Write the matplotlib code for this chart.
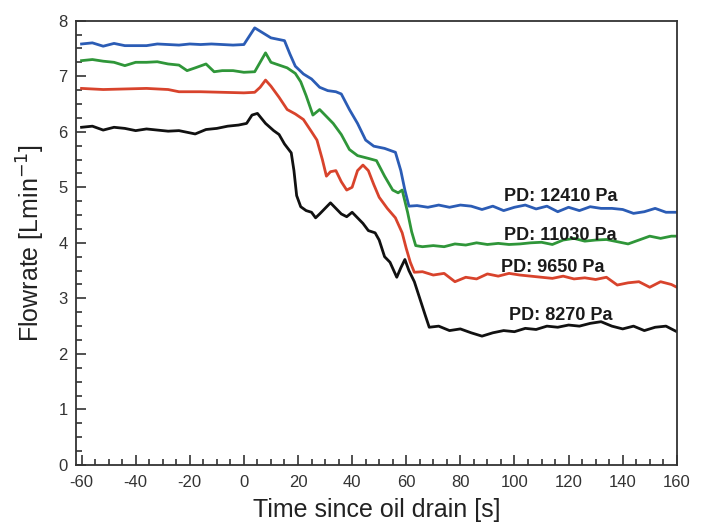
import numpy as np
import matplotlib.pyplot as plt
from matplotlib.ticker import MultipleLocator

plt.rcParams['font.family'] = ['Liberation Sans', 'DejaVu Sans']
plt.rcParams['axes.unicode_minus'] = False

# PD: 12410 Pa
t_12410 = [-60, -56, -52, -48, -44, -40, -36, -32, -28, -24, -20, -16, -12, -8, -4, 0,
           2, 4, 7, 10, 13, 15, 17, 19, 22, 25, 28, 31, 34, 36, 39, 42, 45, 48, 52, 56,
           58, 59.5, 61, 64, 68, 72, 76, 80, 84, 88, 92, 96, 100, 104, 108, 112, 116,
           120, 124, 128, 132, 136, 140, 144, 148, 152, 156, 160]
q_12410 = [7.58, 7.60, 7.54, 7.59, 7.55, 7.55, 7.55, 7.58, 7.57, 7.56, 7.58, 7.57, 7.58,
           7.57, 7.56, 7.57, 7.72, 7.87, 7.78, 7.69, 7.66, 7.64, 7.40, 7.18, 7.04, 6.95,
           6.80, 6.74, 6.72, 6.68, 6.40, 6.15, 5.85, 5.74, 5.70, 5.63, 5.30, 4.95, 4.66,
           4.67, 4.64, 4.68, 4.64, 4.68, 4.66, 4.60, 4.66, 4.58, 4.64, 4.68, 4.61, 4.66,
           4.56, 4.64, 4.58, 4.65, 4.62, 4.62, 4.60, 4.53, 4.56, 4.62, 4.55, 4.55]

# PD: 11030 Pa
t_11030 = [-60, -56, -52, -48, -44, -40, -36, -32, -28, -24, -21, -18, -14, -11, -8, -4,
           0, 4, 6, 8, 10, 13, 16, 19, 21, 23, 25.5, 28, 30, 33, 36, 39, 42, 46, 49, 52,
           55, 57, 58.5, 60.5, 62, 63.5, 66, 70, 74, 78, 82, 86, 90, 94, 98, 102, 106,
           110, 114, 118, 122, 126, 130, 134, 138, 142, 146, 150, 154, 158, 160]
q_11030 = [7.28, 7.30, 7.27, 7.25, 7.19, 7.25, 7.25, 7.26, 7.22, 7.20, 7.10, 7.15, 7.22,
           7.08, 7.10, 7.10, 7.07, 7.08, 7.25, 7.42, 7.25, 7.20, 7.15, 7.05, 6.90, 6.65,
           6.30, 6.40, 6.30, 6.15, 5.95, 5.68, 5.57, 5.52, 5.48, 5.20, 4.95, 4.90, 4.95,
           4.55, 4.20, 3.95, 3.93, 3.95, 3.93, 3.98, 3.96, 4.00, 3.97, 3.99, 3.97, 3.98,
           4.00, 4.01, 3.97, 4.05, 4.08, 4.03, 4.05, 4.06, 4.02, 3.98, 4.05, 4.12, 4.08,
           4.12, 4.12]

# PD: 9650 Pa
t_9650 = [-60, -52, -44, -36, -28, -24, -16, -8, 0, 4, 6, 8, 10, 13, 16, 19, 22, 25, 27,
          29, 30.5, 32, 34, 36, 38, 40, 42, 44, 46, 48, 50, 53, 56, 58.5, 60, 61.5, 63,
          66, 70, 74, 78, 82, 86, 90, 94, 98, 102, 106, 110, 114, 118, 122, 126, 130,
          134, 138, 142, 146, 150, 154, 158, 160]
q_9650 = [6.78, 6.76, 6.77, 6.78, 6.76, 6.72, 6.72, 6.71, 6.70, 6.71, 6.80, 6.93, 6.82,
          6.62, 6.40, 6.32, 6.22, 6.00, 5.85, 5.50, 5.20, 5.28, 5.30, 5.10, 4.95, 5.00,
          5.30, 5.40, 5.30, 5.05, 4.82, 4.62, 4.45, 4.18, 3.90, 3.65, 3.47, 3.48, 3.42,
          3.45, 3.30, 3.38, 3.35, 3.44, 3.40, 3.45, 3.42, 3.40, 3.38, 3.36, 3.40, 3.35,
          3.37, 3.34, 3.38, 3.24, 3.28, 3.30, 3.20, 3.30, 3.25, 3.20]

# PD: 8270 Pa
t_8270 = [-60, -56, -52, -48, -44, -40, -36, -32, -28, -24, -20, -18, -14, -10, -6, -2,
          1, 3, 5, 8, 11, 13, 15, 17.5, 18.5, 19.5, 21, 23, 25, 26.5, 28, 30, 32, 34,
          36, 38, 40, 42, 44, 46, 48.5, 50, 52, 54, 56.5, 58, 59.5, 61, 63, 65, 67,
          68.5, 72, 76, 80, 84, 88, 92, 96, 100, 104, 108, 112, 116, 120, 124, 128,
          132, 136, 140, 144, 148, 152, 156, 160]
q_8270 = [6.08, 6.10, 6.03, 6.08, 6.06, 6.02, 6.05, 6.03, 6.01, 6.02, 5.98, 5.96, 6.04,
          6.06, 6.10, 6.12, 6.15, 6.30, 6.33, 6.15, 6.02, 5.95, 5.78, 5.62, 5.30, 4.85,
          4.65, 4.58, 4.55, 4.45, 4.52, 4.62, 4.72, 4.62, 4.52, 4.47, 4.55, 4.45, 4.35,
          4.22, 4.18, 4.05, 3.75, 3.65, 3.38, 3.55, 3.70, 3.50, 3.30, 3.00, 2.70, 2.48,
          2.50, 2.42, 2.45, 2.38, 2.32, 2.38, 2.42, 2.40, 2.46, 2.44, 2.50, 2.48, 2.52,
          2.50, 2.55, 2.58, 2.50, 2.45, 2.50, 2.42, 2.48, 2.50, 2.40]

labels = ['PD: 12410 Pa', 'PD: 11030 Pa', 'PD: 9650 Pa', 'PD: 8270 Pa']
label_x = [117, 117, 114, 117]
label_y = [4.83, 4.14, 3.55, 2.70]

fig = plt.figure(figsize=(7.05, 5.24), dpi=100)
ax = fig.add_axes([0.108, 0.1126, 0.852, 0.848])

ax.plot(t_12410, q_12410, color='#2b5cb5', lw=2)
ax.plot(t_11030, q_11030, color='#2f9639', lw=2)
ax.plot(t_9650, q_9650, color='#d8432c', lw=2)
ax.plot(t_8270, q_8270, color='#111111', lw=2)

for s, x, y in zip(labels, label_x, label_y):
    ax.text(x, y, s, ha='center', va='center', fontsize=13, fontweight='bold', color='#1a1a1a')

ax.set_xlim(-62, 160)
ax.set_ylim(0, 8)
ax.xaxis.set_major_locator(MultipleLocator(20))
ax.xaxis.set_minor_locator(MultipleLocator(5))
ax.yaxis.set_major_locator(MultipleLocator(1))
ax.yaxis.set_minor_locator(MultipleLocator(0.25))
ax.tick_params(which='both', direction='in', labelsize=12, colors='#333333', width=1.2)
ax.tick_params(which='major', length=7)
ax.tick_params(which='minor', length=4)
ax.tick_params(axis='x', pad=7)
ax.tick_params(axis='y', pad=6)
for sp in ax.spines.values():
    sp.set_linewidth(1.3)
    sp.set_color('#333333')

ax.set_xlabel('Time since oil drain [s]', fontsize=18, color='#222222', labelpad=6)
ax.set_ylabel('Flowrate [Lmin$^{-1}$]', fontsize=18, color='#222222', labelpad=8)

fig.savefig('out.png', dpi=100)
